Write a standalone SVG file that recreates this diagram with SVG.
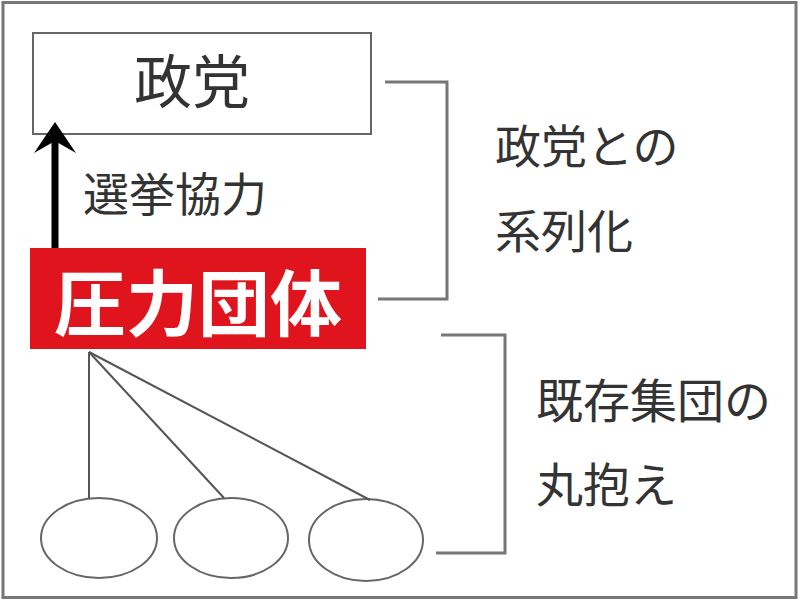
<svg xmlns="http://www.w3.org/2000/svg" width="800" height="600" viewBox="0 0 800 600">
<defs>
<style>
.t{font-family:"Noto Sans CJK JP","Liberation Sans",sans-serif;fill:#333;}
.s{font-family:"Liberation Serif","Noto Sans CJK JP",serif;fill:#333;}
.ln{stroke:#555;stroke-width:2;fill:none;}
.br{stroke:#777;stroke-width:3;fill:none;}
.el{fill:#fff;stroke:#666;stroke-width:2;}
</style>
</defs>
<rect x="0" y="0" width="800" height="600" fill="#fff"/>
<rect x="3" y="2.5" width="793" height="595" fill="none" stroke="#777" stroke-width="3"/>
<g id="party">
<rect x="33" y="33" width="338" height="101" fill="#fff" stroke="#666" stroke-width="2"/>
<text class="s" x="192" y="103" font-size="58" text-anchor="middle">政党</text>
</g>
<g id="pressure">
<rect x="30" y="248" width="336" height="101" fill="#e0141c"/>
<text x="198" y="330" font-size="72" font-weight="bold" text-anchor="middle" fill="#fff" style="font-family:'Noto Sans CJK JP',sans-serif">圧力団体</text>
</g>
<g id="group1"><ellipse class="el" cx="99" cy="538" rx="58" ry="40"/></g>
<g id="group2"><ellipse class="el" cx="231" cy="538" rx="57" ry="40"/></g>
<g id="group3"><ellipse class="el" cx="366" cy="540" rx="57" ry="41"/></g>
<g id="connectors">
<line x1="55" y1="248" x2="55" y2="140" stroke="#000" stroke-width="7"/>
<path d="M34,153 L55,122 L76,153 L55,141 Z" fill="#000"/>
<line class="ln" x1="89" y1="352" x2="89" y2="498"/>
<line class="ln" x1="89" y1="352" x2="224" y2="498"/>
<line class="ln" x1="89" y1="352" x2="370" y2="500"/>
<polyline class="br" points="385,82 447,82 447,299 378,299"/>
<polyline class="br" points="441,335 505,335 505,553 436,553"/>
</g>
<g id="labels">
<text class="s" x="83" y="211" font-size="46">選挙協力</text>
<text class="t" x="495" y="163" font-size="46">政党との</text>
<text class="t" x="495" y="248" font-size="46">系列化</text>
<text class="t" x="536" y="418" font-size="47">既存集団の</text>
<text class="t" x="536" y="502" font-size="47">丸抱え</text>
</g>
</svg>
